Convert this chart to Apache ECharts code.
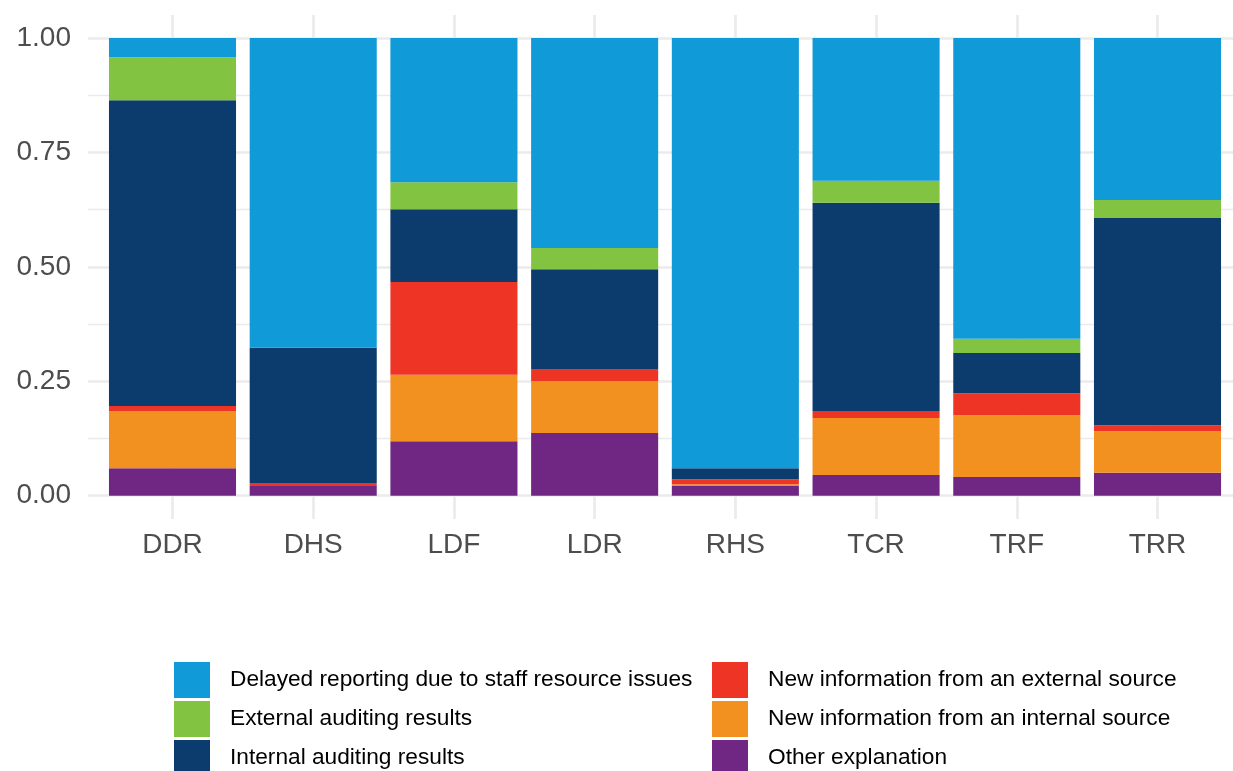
<!DOCTYPE html>
<html>
<head>
<meta charset="utf-8">
<script src="https://cdn.jsdelivr.net/npm/echarts@6/dist/echarts.min.js"></script>
<style>html,body{margin:0;padding:0;background:#fff}#c{width:1233px;height:771px}</style>
</head>
<body>
<div id="c"></div>
<script>
const categories = ['DDR','DHS','LDF','LDR','RHS','TCR','TRF','TRR'];
const otherExplanation   = [0.060, 0.021, 0.119, 0.137, 0.021, 0.045, 0.041, 0.050];
const newInternal        = [0.125, 0.000, 0.145, 0.113, 0.004, 0.125, 0.135, 0.091];
const newExternal        = [0.011, 0.007, 0.203, 0.027, 0.011, 0.015, 0.048, 0.013];
const internalAuditing   = [0.668, 0.295, 0.159, 0.218, 0.024, 0.455, 0.088, 0.453];
const externalAuditing   = [0.094, 0.000, 0.059, 0.046, 0.000, 0.048, 0.031, 0.039];
const delayedReporting   = [0.042, 0.677, 0.315, 0.459, 0.940, 0.312, 0.657, 0.354];
const yTicks = [0, 0.25, 0.5, 0.75, 1];

const seriesDefs = [
  {name:'Other explanation', data: otherExplanation, color:'#702683'},
  {name:'New information from an internal source', data: newInternal, color:'#F29020'},
  {name:'New information from an external source', data: newExternal, color:'#EE3424'},
  {name:'Internal auditing results', data: internalAuditing, color:'#0B3C6D'},
  {name:'External auditing results', data: externalAuditing, color:'#83C342'},
  {name:'Delayed reporting due to staff resource issues', data: delayedReporting, color:'#109AD7'}
];

const chart = echarts.init(document.getElementById('c'), null, {renderer:'canvas'});
const grid = '#EBEBEB';
const legendText = {fontFamily:'Liberation Sans, Arial, sans-serif', fontSize:22.7, color:'#000', padding:[2,0,0,15]};
chart.setOption({
  animation:false,
  backgroundColor:'#fff',
  grid:[
    {left:102.14, right:5.14, top:38, bottom:275.3},   // bars
    {left:88, right:0, top:38, bottom:275.3},          // horizontal gridlines + y labels
    {left:172.5, right:75.5, top:15, bottom:252}       // vertical gridlines
  ],
  xAxis:[
    {type:'category', gridIndex:0, data:categories, axisLine:{show:false}, axisTick:{show:false},
     axisLabel:{margin:36, fontFamily:'Liberation Sans, Arial, sans-serif', fontSize:28, color:'#4D4D4D'},
     splitLine:{show:false}},
    {type:'value', gridIndex:1, min:0, max:1, show:false, splitLine:{show:false}},
    {type:'value', gridIndex:2, min:0, max:7, interval:1, axisLine:{show:false}, axisTick:{show:false},
     axisLabel:{show:false}, splitLine:{show:true, lineStyle:{color:grid, width:2.7}}}
  ],
  yAxis:[
    {type:'value', gridIndex:0, min:0, max:1, show:false, splitLine:{show:false}},
    {type:'value', gridIndex:1, min:0, max:1, interval:0.25, axisLine:{show:false}, axisTick:{show:false},
     axisLabel:{margin:17, fontFamily:'Liberation Sans, Arial, sans-serif', fontSize:28, color:'#4D4D4D', padding:[3,0,0,0],
       formatter:v => yTicks.includes(+v.toFixed(2)) ? v.toFixed(2) : ''},
     splitLine:{show:true, lineStyle:{color:grid, width:2.7}},
     minorTick:{show:false, splitNumber:2},
     minorSplitLine:{show:true, lineStyle:{color:grid, width:1.4}}},
    {type:'value', gridIndex:2, min:0, max:1, show:false, splitLine:{show:false}}
  ],
  legend:[
    {orient:'vertical', left:174, top:662, width:530, height:140, padding:0, itemWidth:36, itemHeight:36, itemGap:3, icon:'rect',
     data:['Delayed reporting due to staff resource issues','External auditing results','Internal auditing results'],
     textStyle:legendText, selectedMode:false},
    {orient:'vertical', left:712, top:662, width:510, height:140, padding:0, itemWidth:36, itemHeight:36, itemGap:3, icon:'rect',
     data:['New information from an external source','New information from an internal source','Other explanation'],
     textStyle:legendText, selectedMode:false}
  ],
  series: seriesDefs.map(s => ({
    name:s.name, type:'bar', stack:'total', xAxisIndex:0, yAxisIndex:0,
    barCategoryGap:'9.7%', data:s.data, itemStyle:{color:s.color}, z:5
  }))
});
</script>
</body>
</html>
